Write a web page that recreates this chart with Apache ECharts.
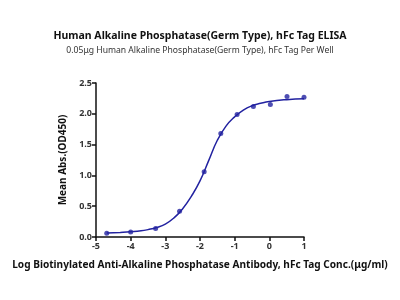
<!DOCTYPE html>
<html><head><meta charset="utf-8">
<script src="https://cdn.jsdelivr.net/npm/echarts@6/dist/echarts.min.js"></script>
<style>html,body{margin:0;padding:0;background:#fff}#c{width:400px;height:300px}</style>
</head><body><div id="c"></div>
<script>
const pointX = [1, 0.51, 0.03, -0.46, -0.93, -1.40, -1.88, -2.59, -3.28, -4.0, -4.69];
const pointY = [2.27, 2.28, 2.15, 2.12, 1.99, 1.68, 1.06, 0.42, 0.14, 0.08, 0.06];
const curveX = [-4.69, -4.3, -4.0, -3.7, -3.5, -3.25, -3.0, -2.75, -2.5, -2.25, -2.0, -1.75, -1.5, -1.25, -1.0, -0.75, -0.5, -0.25, 0, 0.5, 1.0];
const curveY = [0.065, 0.075, 0.085, 0.10, 0.12, 0.155, 0.21, 0.31, 0.46, 0.66, 0.91, 1.24, 1.57, 1.80, 1.95, 2.06, 2.13, 2.17, 2.20, 2.23, 2.245];
const xTicks = [-5, -4, -3, -2, -1, 0, 1];
const yTicks = [0, 0.5, 1.0, 1.5, 2.0, 2.5];
const titleText = 'Human Alkaline Phosphatase(Germ Type), hFc Tag ELISA';
const subText = '0.05\u03bcg Human Alkaline Phosphatase(Germ Type), hFc Tag Per Well';
const xName = 'Log Biotinylated Anti-Alkaline Phosphatase Antibody, hFc Tag Conc.(\u03bcg/ml)';
const yName = 'Mean Abs.(OD450)';
const color = '#2222a0';
const font = 'Noto Sans';

const chart = echarts.init(document.getElementById('c'), null, {renderer: 'canvas'});
chart.setOption({
  animation: false,
  title: [
    {text: titleText, left: 'center', top: 26, textStyle: {fontFamily: font, fontSize: 10.5, fontWeight: 'bold', color: '#111'}},
    {text: subText, left: 'center', top: 41, textStyle: {fontFamily: font, fontSize: 8.6, fontWeight: 'normal', color: '#333'}}
  ],
  grid: {left: 96, right: 96, top: 83, bottom: 63},
  xAxis: {
    type: 'value', min: xTicks[0], max: xTicks[xTicks.length - 1], interval: 1,
    name: xName, nameLocation: 'middle', nameGap: 23,
    nameTextStyle: {fontFamily: font, fontSize: 10.1, fontWeight: 'bold', color: '#111'},
    axisLine: {show: true, onZero: false, lineStyle: {color: '#111', width: 1.5}},
    axisTick: {show: true, length: 4, lineStyle: {color: '#111', width: 1.5}},
    axisLabel: {fontFamily: font, fontSize: 9, fontWeight: 'bold', color: '#333', margin: 5},
    splitLine: {show: false}
  },
  yAxis: {
    type: 'value', min: 0, max: 2.5, interval: 0.5,
    name: yName, nameLocation: 'middle', nameGap: 25, nameRotate: 90,
    nameTextStyle: {fontFamily: font, fontSize: 10, fontWeight: 'bold', color: '#111'},
    axisLine: {show: true, onZero: false, lineStyle: {color: '#111', width: 1.5}},
    axisTick: {show: true, length: 4, lineStyle: {color: '#111', width: 1.5}},
    axisLabel: {fontFamily: font, fontSize: 9, fontWeight: 'bold', color: '#333', margin: 4, formatter: v => v.toFixed(1)},
    splitLine: {show: false}
  },
  series: [
    {type: 'line', data: curveX.map((x, i) => [x, curveY[i]]), smooth: true, showSymbol: false, symbol: 'none',
     lineStyle: {color: color, width: 1.5}, z: 2},
    {type: 'scatter', data: pointX.map((x, i) => [x, pointY[i]]), symbol: 'circle', symbolSize: 5,
     itemStyle: {color: color}, z: 3}
  ]
});
</script></body></html>
